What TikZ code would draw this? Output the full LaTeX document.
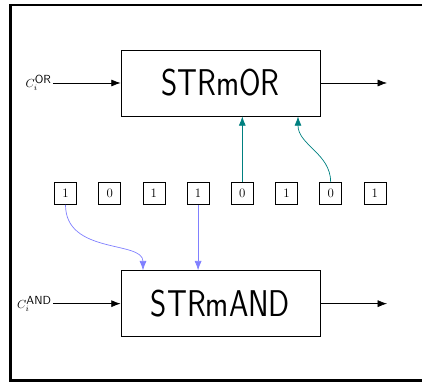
\documentclass[tikz,border=0pt]{standalone}
\usepackage{graphicx}
\usetikzlibrary{arrows.meta,positioning}
\definecolor{orteal}{RGB}{0,128,128}
\definecolor{andblue}{RGB}{128,128,255}

\begin{document}
\begin{tikzpicture}[
    gate/.style={draw, line width=0.6pt, minimum width=5.97cm, minimum height=1.98cm,
                 font=\fontsize{26.5}{30}\selectfont\sffamily},
    bit/.style={draw, line width=0.5pt, minimum size=0.66cm, inner sep=0pt,
                font=\fontsize{11}{13}\selectfont},
    clabel/.style={anchor=east, inner sep=1pt, font=\fontsize{10}{12}\selectfont},
    arr/.style={-{Latex[length=8pt,width=6pt]}, line width=0.6pt},
    orarr/.style={arr, orteal},
    andarr/.style={arr, andblue}
]
\useasboundingbox (0,0) rectangle (12.66,11.49);
\draw[line width=2pt] (12.66,11.33) -- (0.32,11.33) -- (0.32,0.07) -- (12.66,0.07);

% the two gates
\node[gate] (or) at (6.615,9.0) {\scalebox{1}[1.2]{STRmOR}};
\node[gate] (and) at (6.615,2.38) {\scalebox{1}[1.2]{STRmAND}};

% inputs and outputs
\node[clabel] (cor) at (1.59,9.0) {$C_i^{\textsf{OR}}$};
\node[clabel] (cand) at (1.59,2.38) {$C_i^{\textsf{AND}}$};
\coordinate (orout) at (11.61,9.0);
\coordinate (andout) at (11.61,2.38);

% the bit string
\node[bit] (b1) at (1.965,5.685) {1};
\node[bit] (b2) at (3.291,5.685) {0};
\node[bit] (b3) at (4.617,5.685) {1};
\node[bit] (b4) at (5.943,5.685) {1};
\node[bit] (b5) at (7.269,5.685) {0};
\node[bit] (b6) at (8.595,5.685) {1};
\node[bit] (b7) at (9.921,5.685) {0};
\node[bit] (b8) at (11.247,5.685) {1};

\draw[arr] (cor) -- (or);
\draw[arr] (or) -- (orout);
\draw[arr] (cand) -- (and);
\draw[arr] (and) -- (andout);

% zeros feed the OR gate, ones the AND gate
\draw[orarr] (b5.north) -- (b5.north |- or.south);
\draw[orarr] (b7.north) to[out=90,in=-90] ([xshift=2.325cm]or.south);
\draw[andarr] (b1.south) .. controls +(0,-1.5) and +(0,0.9) .. ([xshift=-2.325cm]and.north);
\draw[andarr] (b4.south) -- (b4.south |- and.north);
\end{tikzpicture}
\end{document}
